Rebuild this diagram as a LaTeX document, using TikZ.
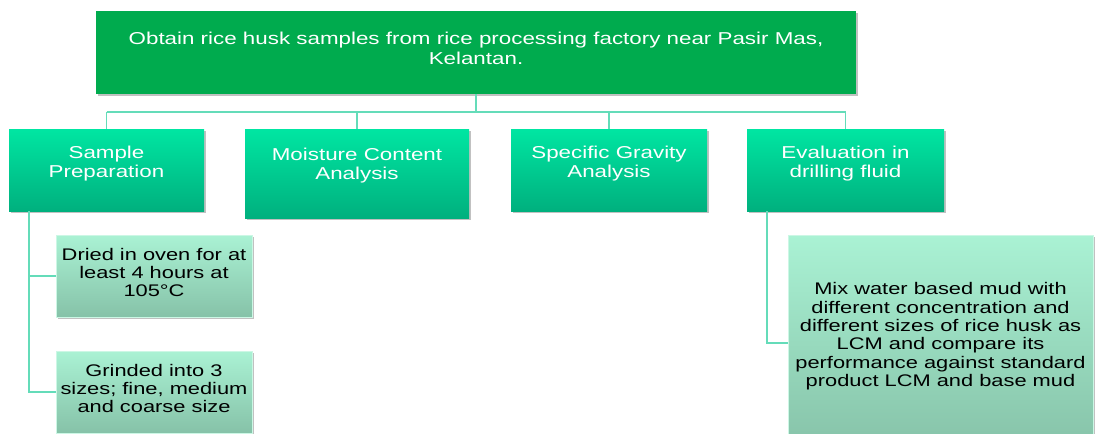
\documentclass[tikz,border=0pt]{standalone}
\usepackage{fontspec}
\setmainfont{Liberation Sans}[FakeStretch=1.3]
\usetikzlibrary{shadows}
\definecolor{topgreen}{RGB}{0,171,78}
\definecolor{midtop}{RGB}{0,230,162}
\definecolor{midbot}{RGB}{0,176,126}
\definecolor{lowtop}{RGB}{170,242,212}
\definecolor{lowbot}{RGB}{134,194,168}
\definecolor{conncol}{RGB}{100,220,185}
\newcommand\rlines[2]{\raisebox{#1}[\height][\depth]{\begin{tabular}{@{}c@{}}#2\end{tabular}}}
\tikzset{
  boxshadow/.style={drop shadow={opacity=0.35,shadow xshift=1.5pt,shadow yshift=-1.5pt,fill=black!70}},
  topbox/.style={fill=topgreen,draw=none,text=white,align=center,boxshadow,
    font=\fontsize{17.2}{19.5}\selectfont},
  midbox/.style={top color=midtop,bottom color=midbot,draw=none,text=white,align=center,boxshadow,
    font=\fontsize{17.2}{19}\selectfont},
  lowbox/.style={top color=lowtop,bottom color=lowbot,draw=lowtop!60!white,line width=0.8pt,text=black,align=center,boxshadow,
    font=\fontsize{16.8}{18.3}\selectfont},
  conn/.style={draw=conncol,line width=1.5pt},
}
\begin{document}
\begin{tikzpicture}[x=1pt,y=-1pt]
\useasboundingbox (0,0) rectangle (1096,434);
\clip (0,0) rectangle (1096,434);

\node[topbox,minimum width=760pt,minimum height=83pt] (top) at (476,52.5)
  {\rlines{2pt}{Obtain rice husk samples from rice processing factory near Pasir Mas,\\Kelantan.}};

\node[midbox,minimum width=195pt,minimum height=82pt] (sp) at (106.5,170) {\rlines{6pt}{Sample\\Preparation}};
\node[midbox,minimum width=224pt,minimum height=89pt] (mc) at (357,173.5) {\rlines{7pt}{Moisture Content\\Analysis}};
\node[midbox,minimum width=196pt,minimum height=82pt] (sg) at (609,170) {\rlines{6pt}{Specific Gravity\\Analysis}};
\node[midbox,minimum width=197pt,minimum height=82pt] (ev) at (845.5,170) {\rlines{6pt}{Evaluation in\\drilling fluid}};

\node[lowbox,minimum width=196pt,minimum height=82pt] (dried) at (154,276) {\rlines{1pt}{Dried in oven for at\\least 4 hours at\\105°C}};
\node[lowbox,minimum width=196pt,minimum height=82pt] (grind) at (154,392) {\rlines{1pt}{Grinded into 3\\sizes; fine, medium\\and coarse size}};
\node[lowbox,minimum width=305pt,minimum height=216pt] (mix) at (940.5,343) {\rlines{6pt}{Mix water based mud with\\different concentration and\\different sizes of rice husk as\\LCM and compare its\\performance against standard\\product LCM and base mud}};

\coordinate (bary) at (0,112);
\coordinate (spl) at (29,211);
\coordinate (evl) at (767,211);

\draw[conn] (top.south) -- (top.south |- bary);
\draw[conn] (sp.north |- bary) -- (ev.north |- bary);
\draw[conn] (sp.north |- bary) -- (sp.north);
\draw[conn] (mc.north |- bary) -- (mc.north);
\draw[conn] (sg.north |- bary) -- (sg.north);
\draw[conn] (ev.north |- bary) -- (ev.north);
\draw[conn] (spl) |- (dried.west);
\draw[conn] (spl) |- (grind.west);
\draw[conn] (evl) |- (mix.west);
\end{tikzpicture}
\end{document}
